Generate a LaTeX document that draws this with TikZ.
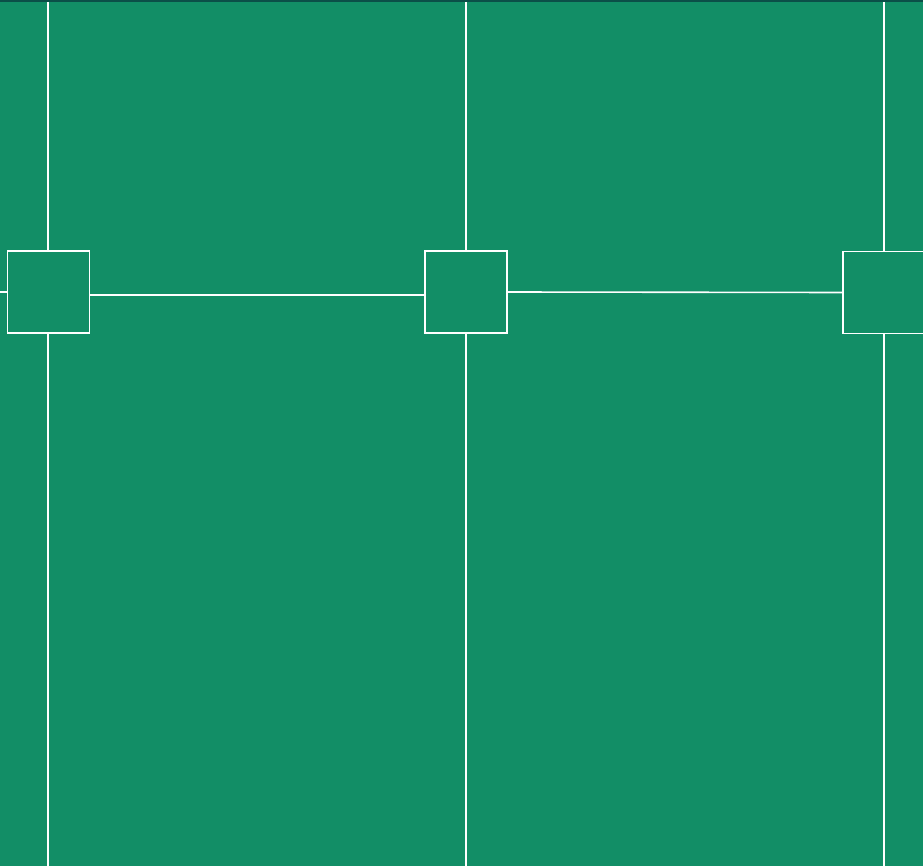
\documentclass[tikz,border=0pt]{standalone}
\usepackage{tikz}
\usetikzlibrary{positioning}
\definecolor{boardgreen}{HTML}{128E66}
\definecolor{rimteal}{HTML}{0B4F48}

\begin{document}
\begin{tikzpicture}[x=1pt,y=-1pt,line cap=butt,
  joint/.style={draw=white,line width=1.6pt,minimum width=82pt,minimum height=82pt,inner sep=0pt},
  wire/.style={white,line width=1.6pt}]
\useasboundingbox (0,0) rectangle (923,866);
\clip (0,0) rectangle (923,866);
\fill[boardgreen] (0,0) rectangle (923,866);
\fill[rimteal] (0,0) rectangle (923,2);
% joints
\node[joint] (j1) at (48.5,292) {};
\node[joint] (j2) at (466,292) {};
\node[joint] (j3) at (884,292.5) {};
% free ends
\coordinate (t1) at (48,2);
\coordinate (t2) at (466,2);
\coordinate (t3) at (884,2);
\coordinate (b1) at (48,866);
\coordinate (b2) at (466,866);
\coordinate (b3) at (884,866);
\coordinate (l0) at (0,292);
% wires
\draw[wire] (t1) -- (j1.north -| t1);
\draw[wire] (j1.south -| b1) -- (b1);
\draw[wire] (t2) -- (j2.north);
\draw[wire] (j2.south) -- (b2);
\draw[wire] (t3) -- (j3.north);
\draw[wire] (j3.south) -- (b3);
\draw[wire] (l0) -- (j1.west);
\draw[wire] ([yshift=-3pt]j1.east) -- ([yshift=-3pt]j2.west);
\draw[wire] (j2.east) -- (j3.west);
\end{tikzpicture}
\end{document}
